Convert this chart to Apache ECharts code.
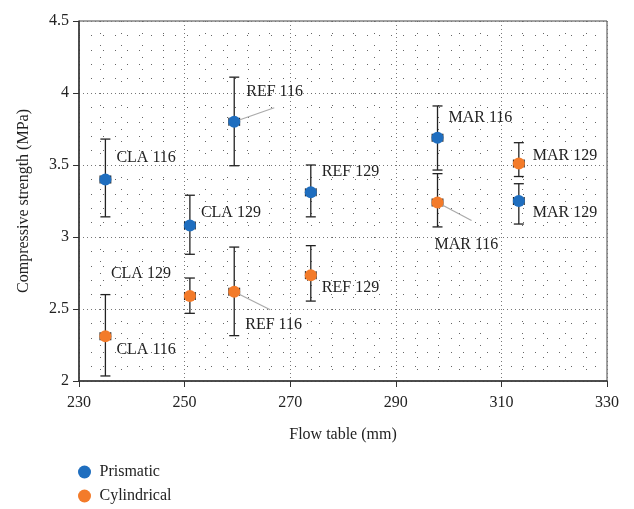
<!DOCTYPE html>
<html>
<head>
<meta charset="utf-8">
<script src="https://cdn.jsdelivr.net/npm/echarts@6/dist/echarts.min.js"></script>
<style>
html, body { margin: 0; padding: 0; background: #fff; }
#chart { width: 634px; height: 509px; }
</style>
</head>
<body>
<div id="chart"></div>
<script>
// sample names and measured values
var names = ['CLA 116', 'CLA 129', 'REF 116', 'REF 129', 'MAR 116', 'MAR 129'];
var flowTable = [235, 251, 259.4, 273.9, 297.9, 313.3];
var flowErr = [1, 1, 1, 1, 1, 1];

var prismatic = [3.40, 3.08, 3.80, 3.31, 3.69, 3.25];
var prismaticLow = [3.14, 2.88, 3.495, 3.14, 3.465, 3.09];
var prismaticHigh = [3.68, 3.29, 4.11, 3.50, 3.91, 3.37];

var cylindrical = [2.31, 2.59, 2.62, 2.735, 3.24, 3.51];
var cylindricalLow = [2.035, 2.47, 2.315, 2.555, 3.07, 3.42];
var cylindricalHigh = [2.60, 2.715, 2.93, 2.94, 3.44, 3.655];

var xTicks = [230, 250, 270, 290, 310, 330];
var yTicks = [2, 2.5, 3, 3.5, 4, 4.5];

// label placement (pixels) and leader lines
var blueLabelOffset = [[0, -22], [0, -13], [1, -30], [0, -21], [0, -20], [3, 12]];
var orangeLabelOffset = [[0, 13], [-90, -22], [0, 33], [0, 13], [-14, 42], [3, -8]];
var blueLeader = [null, null, [40, -14], null, null, null];
var orangeLeader = [null, null, [36, 18], null, [34, 18], null];

var BLUE = '#1f6ebf';
var ORANGE = '#f37b2a';
var FONT = '"Liberation Serif", "DejaVu Serif", serif';

function makePoints(vals, offsets) {
    return vals.map(function(v, i) {
        return {
            value: [flowTable[i], v],
            label: { offset: offsets[i] }
        };
    });
}

function makeErr(vals, lo, hi) {
    return vals.map(function(v, i) {
        return [flowTable[i], v, lo[i], hi[i], flowTable[i] - flowErr[i], flowTable[i] + flowErr[i]];
    });
}

function makeLeaders(vals, leaders) {
    var out = [];
    vals.forEach(function(v, i) {
        if (leaders[i]) out.push([flowTable[i], v, i]);
    });
    return out;
}

function errorRender(params, api) {
    var x = api.value(0), y = api.value(1);
    var c = api.coord([x, y]);
    var top = api.coord([x, api.value(3)]);
    var bot = api.coord([x, api.value(2)]);
    var left = api.coord([api.value(4), y]);
    var right = api.coord([api.value(5), y]);
    var cw = 5, ch = 4;
    var st = { stroke: '#222', lineWidth: 1.3 };
    return {
        type: 'group',
        children: [
            { type: 'line', shape: { x1: c[0], y1: top[1], x2: c[0], y2: bot[1] }, style: st },
            { type: 'line', shape: { x1: c[0] - cw, y1: top[1], x2: c[0] + cw, y2: top[1] }, style: st },
            { type: 'line', shape: { x1: c[0] - cw, y1: bot[1], x2: c[0] + cw, y2: bot[1] }, style: st },
            { type: 'line', shape: { x1: left[0], y1: c[1], x2: right[0], y2: c[1] }, style: st },
            { type: 'line', shape: { x1: left[0], y1: c[1] - ch, x2: left[0], y2: c[1] + ch }, style: st },
            { type: 'line', shape: { x1: right[0], y1: c[1] - ch, x2: right[0], y2: c[1] + ch }, style: st }
        ]
    };
}

function leaderRender(table) {
    return function(params, api) {
        var c = api.coord([api.value(0), api.value(1)]);
        var d = table[api.value(2)];
        return {
            type: 'line',
            shape: { x1: c[0], y1: c[1], x2: c[0] + d[0], y2: c[1] + d[1] },
            style: { stroke: '#aaa', lineWidth: 1.2 }
        };
    };
}

var pointLabel = {
    show: true,
    position: 'right',
    distance: 5,
    formatter: function(p) { return names[p.dataIndex]; },
    fontFamily: FONT,
    fontSize: 16,
    color: '#222'
};

var option = {
    animation: false,
    textStyle: { fontFamily: FONT },
    grid: {
        left: 79, right: 27, top: 21, bottom: 128,
        show: true, borderColor: '#444', borderWidth: 1
    },
    legend: {
        orient: 'vertical',
        left: 78, top: 464,
        padding: 0,
        itemGap: 8,
        itemWidth: 20, itemHeight: 13,
        symbolKeepAspect: true,
        textStyle: { fontFamily: FONT, fontSize: 16, color: '#222' },
        data: [
            { name: 'Prismatic', icon: 'circle' },
            { name: 'Cylindrical', icon: 'circle' }
        ]
    },
    xAxis: {
        type: 'value',
        min: xTicks[0], max: xTicks[xTicks.length - 1], interval: 20,
        name: 'Flow table (mm)',
        nameLocation: 'middle',
        nameGap: 46,
        nameTextStyle: { fontFamily: FONT, fontSize: 16, color: '#222' },
        axisLine: { lineStyle: { color: '#333', width: 1.5 } },
        axisTick: { show: true, inside: false, length: 6, lineStyle: { color: '#333' } },
        axisLabel: { fontFamily: FONT, fontSize: 16, color: '#222', margin: 14 },
        splitLine: { show: true, lineStyle: { type: [1, 3], color: '#777' } },
        minorTick: { show: false, splitNumber: 5 },
        minorSplitLine: { show: true, lineStyle: { type: [1, 11], color: '#666', width: 1 } }
    },
    yAxis: {
        type: 'value',
        min: yTicks[0], max: yTicks[yTicks.length - 1], interval: 0.5,
        name: 'Compressive strength (MPa)',
        nameLocation: 'middle',
        nameGap: 47,
        nameTextStyle: { fontFamily: FONT, fontSize: 16, color: '#222' },
        axisLine: { show: true, lineStyle: { color: '#333', width: 1.5 } },
        axisTick: { show: true, inside: false, length: 6, lineStyle: { color: '#333' } },
        axisLabel: { fontFamily: FONT, fontSize: 16, color: '#222', margin: 10 },
        splitLine: { show: true, lineStyle: { type: [1, 3], color: '#777' } },
        minorTick: { show: false, splitNumber: 5 },
        minorSplitLine: { show: true, lineStyle: { type: [1, 11], color: '#666', width: 1 } }
    },
    series: [
        {
            name: 'PrismaticErr', type: 'custom', renderItem: errorRender,
            data: makeErr(prismatic, prismaticLow, prismaticHigh), z: 3, silent: true
        },
        {
            name: 'CylindricalErr', type: 'custom', renderItem: errorRender,
            data: makeErr(cylindrical, cylindricalLow, cylindricalHigh), z: 3, silent: true
        },
        {
            name: 'PrismaticLeader', type: 'custom', renderItem: leaderRender(blueLeader),
            data: makeLeaders(prismatic, blueLeader), z: 4, silent: true
        },
        {
            name: 'CylindricalLeader', type: 'custom', renderItem: leaderRender(orangeLeader),
            data: makeLeaders(cylindrical, orangeLeader), z: 4, silent: true
        },
        {
            name: 'Prismatic', type: 'scatter', symbol: 'circle', symbolSize: 12,
            itemStyle: { color: BLUE, opacity: 1 },
            label: pointLabel,
            data: makePoints(prismatic, blueLabelOffset), z: 5
        },
        {
            name: 'Cylindrical', type: 'scatter', symbol: 'circle', symbolSize: 12,
            itemStyle: { color: ORANGE, opacity: 1 },
            label: pointLabel,
            data: makePoints(cylindrical, orangeLabelOffset), z: 5
        }
    ]
};

echarts.init(document.getElementById('chart')).setOption(option);
</script>
</body>
</html>
